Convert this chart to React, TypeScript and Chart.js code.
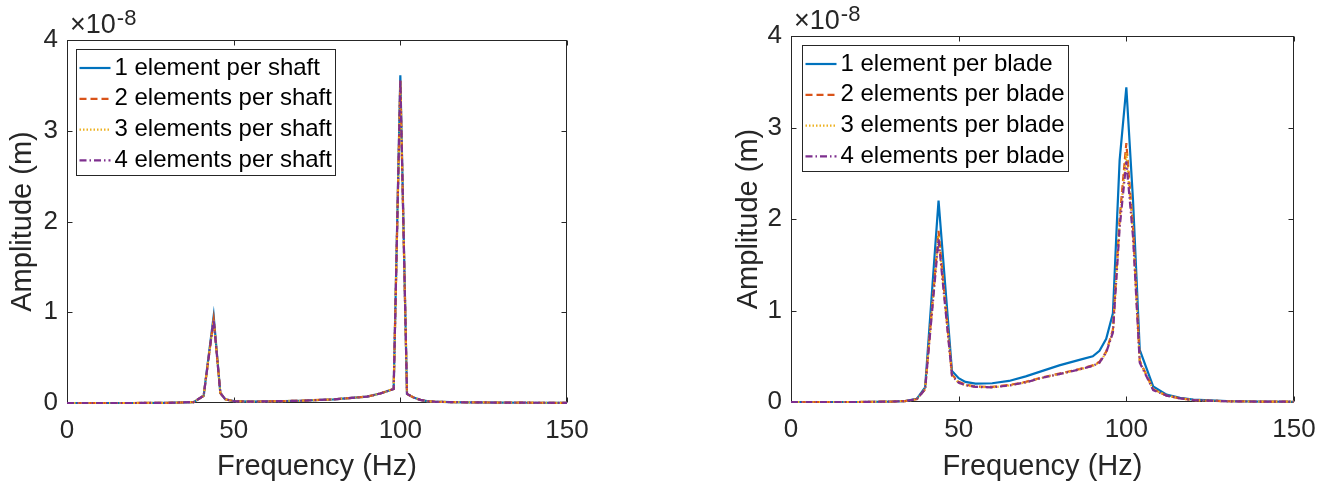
import React, { useEffect, useRef } from "react";
import { Chart, registerables } from "chart.js";

Chart.register(...registerables);

// ---------- data (amplitudes in units of 1e-8 m) ----------
const freqShaft = [0, 10, 20, 30, 38, 41, 44, 46, 47.5, 50, 55, 60, 70, 80, 90, 94, 98, 100, 102, 104, 106, 108, 110, 115, 120, 130, 140, 150];
const shaft1 = [0, 0, 0, 0.002, 0.01, 0.08, 0.96, 0.11, 0.04, 0.02, 0.015, 0.018, 0.025, 0.04, 0.07, 0.105, 0.155, 3.61, 0.1, 0.06, 0.035, 0.02, 0.015, 0.01, 0.007, 0.005, 0.003, 0.002];
const shaft2 = [0, 0, 0, 0.002, 0.01, 0.08, 0.92, 0.11, 0.04, 0.02, 0.015, 0.018, 0.025, 0.04, 0.07, 0.105, 0.155, 3.55, 0.1, 0.06, 0.035, 0.02, 0.015, 0.01, 0.007, 0.005, 0.003, 0.002];
const shaft3 = [0, 0, 0, 0.002, 0.01, 0.08, 0.92, 0.11, 0.04, 0.02, 0.015, 0.018, 0.025, 0.04, 0.07, 0.105, 0.155, 3.55, 0.1, 0.06, 0.035, 0.02, 0.015, 0.01, 0.007, 0.005, 0.003, 0.002];
const shaft4 = [0, 0, 0, 0.002, 0.01, 0.08, 0.92, 0.11, 0.04, 0.02, 0.015, 0.018, 0.025, 0.04, 0.07, 0.105, 0.155, 3.56, 0.1, 0.06, 0.035, 0.02, 0.015, 0.01, 0.007, 0.005, 0.003, 0.002];

const freqBlade = [0, 10, 20, 30, 34, 37.5, 40, 44, 48, 50, 52, 55, 60, 65, 70, 75, 80, 86, 90, 92, 94, 96, 98, 100, 102, 104, 108, 112, 116, 120, 130, 140, 150];
const blade1 = [0, 0, 0, 0.005, 0.01, 0.035, 0.16, 2.2, 0.34, 0.26, 0.22, 0.2, 0.205, 0.23, 0.28, 0.34, 0.4, 0.46, 0.5, 0.56, 0.69, 0.97, 2.64, 3.44, 2.2, 0.57, 0.17, 0.08, 0.045, 0.025, 0.01, 0.005, 0.003];
const blade2 = [0, 0, 0, 0.005, 0.01, 0.03, 0.14, 1.87, 0.3, 0.22, 0.19, 0.17, 0.165, 0.185, 0.22, 0.27, 0.31, 0.36, 0.4, 0.44, 0.55, 0.79, 2.0, 2.83, 1.9, 0.45, 0.14, 0.07, 0.04, 0.02, 0.008, 0.004, 0.003];
const blade3 = [0, 0, 0, 0.005, 0.01, 0.03, 0.14, 1.82, 0.29, 0.21, 0.185, 0.165, 0.16, 0.18, 0.215, 0.265, 0.305, 0.355, 0.395, 0.43, 0.54, 0.77, 1.95, 2.72, 1.85, 0.44, 0.14, 0.07, 0.04, 0.02, 0.008, 0.004, 0.003];
const blade4 = [0, 0, 0, 0.005, 0.01, 0.03, 0.14, 1.78, 0.29, 0.21, 0.185, 0.165, 0.16, 0.18, 0.215, 0.265, 0.305, 0.355, 0.395, 0.43, 0.54, 0.76, 1.9, 2.63, 1.8, 0.43, 0.13, 0.07, 0.04, 0.02, 0.008, 0.004, 0.003];

const labelsShaft = ["1 element per shaft", "2 elements per shaft", "3 elements per shaft", "4 elements per shaft"];
const labelsBlade = ["1 element per blade", "2 elements per blade", "3 elements per blade", "4 elements per blade"];

const xMin = 0, xMax = 150, xStep = 50;
const yMin = 0, yMax = 4, yStep = 1;
const xTitle = "Frequency (Hz)";
const yTitle = "Amplitude (m)";
const exponentBase = "×10";
const exponentPower = "-8";

// ---------- styles ----------
const FONT = '"Liberation Sans", Arial, Helvetica, sans-serif';
const AXIS_COLOR = "#262626";
const COLORS = ["#0072BD", "#D95319", "#EDB120", "#7E2F8E"];
const DASHES = [[], [7, 4], [1.5, 2], [7, 3, 1.5, 3]];

const W = 665;
const H = 486;

const matlabAxes = {
  id: "matlabAxes",
  beforeDatasetsDraw(chart: any) {
    const { ctx, chartArea: a, scales } = chart;
    const L = Math.round(a.left) + 0.5;
    const R = Math.round(a.right) - 0.5;
    const T = Math.round(a.top) + 0.5;
    const B = Math.round(a.bottom) - 0.5;
    ctx.save();
    ctx.fillStyle = "#ffffff";
    ctx.fillRect(a.left, a.top, a.right - a.left, a.bottom - a.top);
    ctx.strokeStyle = AXIS_COLOR;
    ctx.lineWidth = 1;
    ctx.setLineDash([]);
    ctx.beginPath();
    const tl = 5;
    for (const t of scales.x.ticks) {
      const px = Math.round(scales.x.getPixelForValue(t.value)) + 0.5;
      ctx.moveTo(px, B);
      ctx.lineTo(px, B - tl);
      ctx.moveTo(px, T);
      ctx.lineTo(px, T + tl);
    }
    for (const t of scales.y.ticks) {
      const py = Math.round(scales.y.getPixelForValue(t.value)) + 0.5;
      ctx.moveTo(L, py);
      ctx.lineTo(L + tl, py);
      ctx.moveTo(R, py);
      ctx.lineTo(R - tl, py);
    }
    ctx.stroke();
    ctx.strokeRect(L, T, R - L, B - T);
    ctx.restore();
  },
  afterDatasetsDraw(chart: any, _args: any, opts: any) {
    const { ctx, chartArea: a } = chart;
    ctx.save();
    // exponent label
    ctx.fillStyle = AXIS_COLOR;
    ctx.textBaseline = "alphabetic";
    ctx.textAlign = "left";
    ctx.font = `27px ${FONT}`;
    const ex = a.left + 3;
    const ey = a.top - 7;
    ctx.fillText(exponentBase, ex, ey);
    const bw = ctx.measureText(exponentBase).width;
    ctx.font = `22px ${FONT}`;
    ctx.fillText(exponentPower, ex + bw + 1, ey - 8);

    // legend
    const datasets = chart.data.datasets;
    ctx.font = `24px ${FONT}`;
    let maxW = 0;
    for (const d of datasets) maxW = Math.max(maxW, ctx.measureText(d.label).width);
    const bx = Math.round(a.left + opts.boxX) + 0.5;
    const by = Math.round(a.top + opts.boxY) + 0.5;
    const bwid = Math.round(38 + maxW + 4);
    const bh = 126;
    ctx.fillStyle = "#ffffff";
    ctx.fillRect(bx, by, bwid, bh);
    ctx.strokeStyle = AXIS_COLOR;
    ctx.lineWidth = 1;
    ctx.setLineDash([]);
    ctx.strokeRect(bx, by, bwid, bh);
    datasets.forEach((d: any, i: number) => {
      const cy = by + 18.5 + i * 30.8;
      ctx.strokeStyle = d.borderColor;
      ctx.lineWidth = 2.2;
      ctx.setLineDash(d.borderDash || []);
      ctx.beginPath();
      ctx.moveTo(bx + 3, cy);
      ctx.lineTo(bx + 34, cy);
      ctx.stroke();
      ctx.setLineDash([]);
      ctx.fillStyle = "#000000";
      ctx.textBaseline = "middle";
      ctx.fillText(d.label, bx + 38, cy);
    });
    ctx.restore();
  },
};

type PanelProps = {
  freqs: number[];
  series: number[][];
  labels: string[];
  padLeft: number;
  padRight: number;
  padTop: number;
  yAxisWidth: number;
  xAxisHeight: number;
  yTitlePad: number;
  boxX: number;
  boxY: number;
};

function Panel(p: PanelProps) {
  const ref = useRef<HTMLCanvasElement>(null);
  useEffect(() => {
    const canvas = ref.current;
    if (!canvas) return;
    const chart = new Chart(canvas, {
      type: "line",
      data: {
        datasets: p.series.map((s, i) => ({
          label: p.labels[i],
          data: p.freqs.map((f, j) => ({ x: f, y: s[j] })),
          borderColor: COLORS[i],
          backgroundColor: COLORS[i],
          borderDash: DASHES[i],
          borderWidth: 2.2,
          pointRadius: 0,
          tension: 0,
          fill: false,
          clip: false as any,
          order: p.series.length - i,
        })),
      },
      options: {
        animation: false,
        responsive: false,
        maintainAspectRatio: false,
        layout: { padding: { left: p.padLeft, right: p.padRight, top: p.padTop, bottom: 0 } },
        plugins: {
          legend: { display: false },
          tooltip: { enabled: false },
          matlabAxes: { boxX: p.boxX, boxY: p.boxY },
        } as any,
        scales: {
          x: {
            type: "linear",
            min: xMin,
            max: xMax,
            grid: { display: false, drawTicks: false },
            border: { display: false },
            ticks: {
              stepSize: xStep,
              padding: 12,
              color: AXIS_COLOR,
              font: { family: FONT, size: 26 },
              maxRotation: 0,
            },
            title: {
              display: true,
              text: xTitle,
              color: AXIS_COLOR,
              font: { family: FONT, size: 29 },
              padding: { top: 0, bottom: 2 },
            },
            afterFit: (scale: any) => {
              scale.height = p.xAxisHeight;
            },
          },
          y: {
            type: "linear",
            min: yMin,
            max: yMax,
            grid: { display: false, drawTicks: false },
            border: { display: false },
            ticks: {
              stepSize: yStep,
              padding: 9,
              color: AXIS_COLOR,
              font: { family: FONT, size: 26 },
            },
            title: {
              display: true,
              text: yTitle,
              color: AXIS_COLOR,
              font: { family: FONT, size: 29 },
              padding: { top: p.yTitlePad, bottom: 0 },
            },
            afterFit: (scale: any) => {
              scale.width = p.yAxisWidth;
            },
          },
        },
      },
      plugins: [matlabAxes as any],
    });
    return () => chart.destroy();
  }, []);
  return <canvas ref={ref} width={W} height={H} style={{ width: W, height: H, display: "block" }} />;
}

export default function App() {
  return (
    <div style={{ position: "absolute", left: 0, top: 0, width: 1330, height: 486, background: "#fff" }}>
      <div style={{ position: "absolute", left: 0, top: 0 }}>
        <Panel
          freqs={freqShaft}
          series={[shaft1, shaft2, shaft3, shaft4]}
          labels={labelsShaft}
          padLeft={0}
          padRight={98}
          padTop={40}
          yAxisWidth={67}
          xAxisHeight={83}
          yTitlePad={6}
          boxX={9}
          boxY={9}
        />
      </div>
      <div style={{ position: "absolute", left: 665, top: 0 }}>
        <Panel
          freqs={freqBlade}
          series={[blade1, blade2, blade3, blade4]}
          labels={labelsBlade}
          padLeft={60}
          padRight={36}
          padTop={36}
          yAxisWidth={66}
          xAxisHeight={84}
          yTitlePad={7}
          boxX={11}
          boxY={9}
        />
      </div>
    </div>
  );
}
